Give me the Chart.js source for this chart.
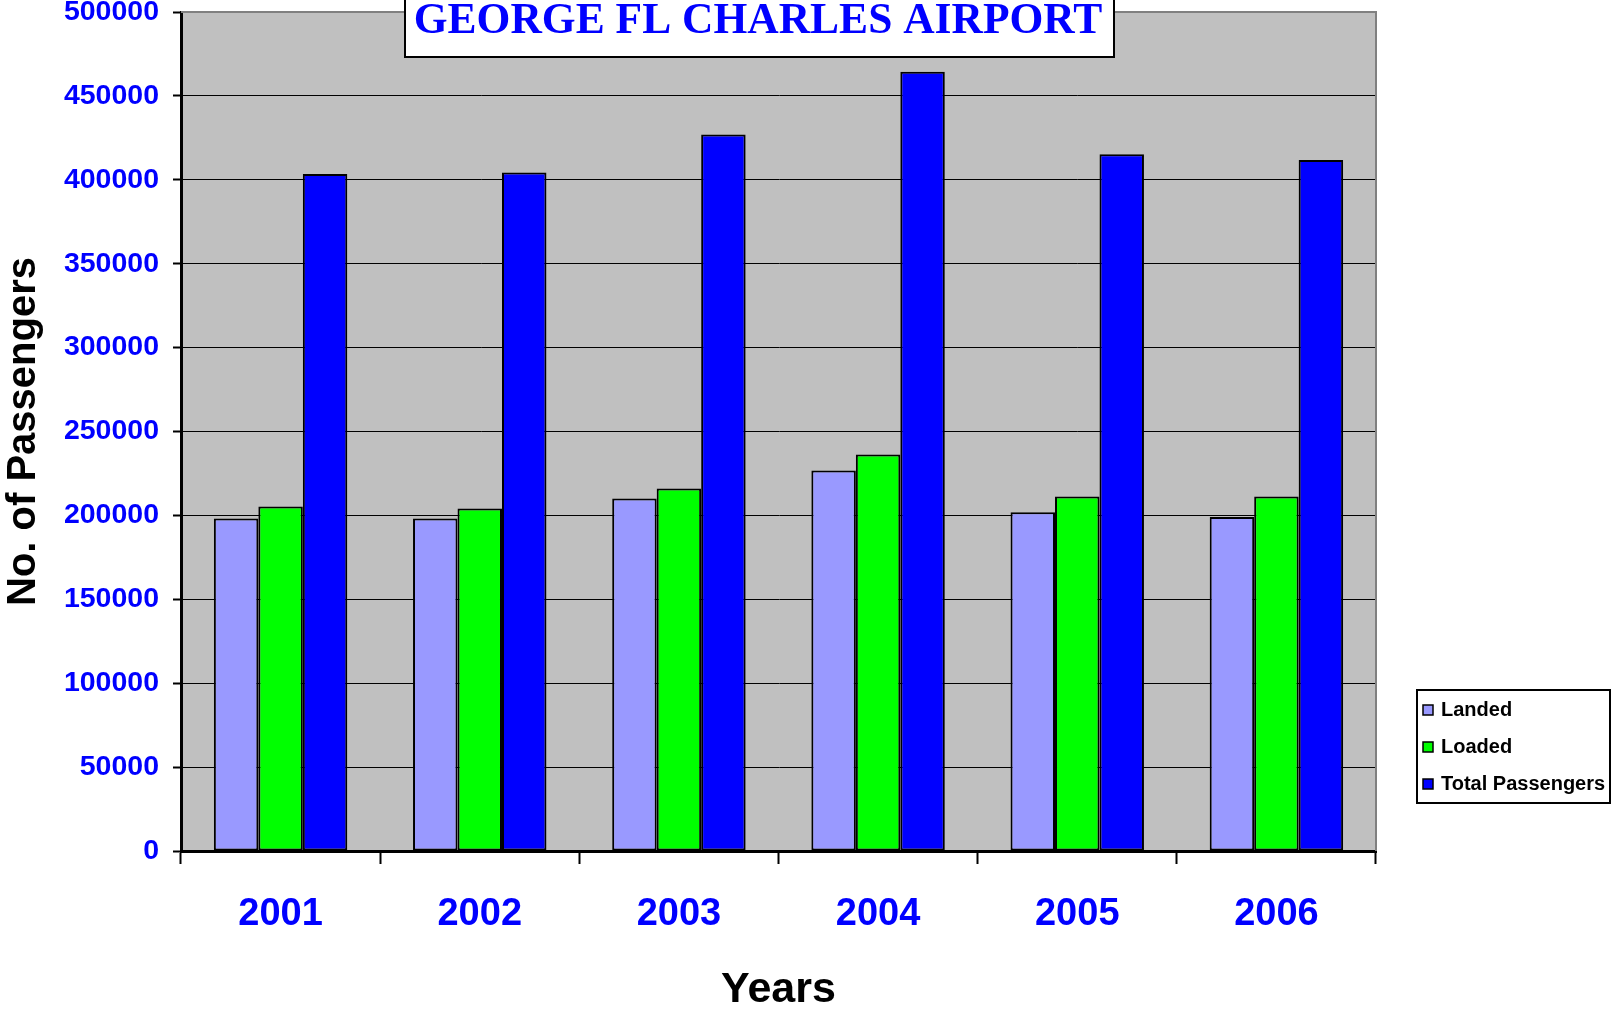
<!DOCTYPE html>
<html>
<head>
<meta charset="utf-8">
<title>George FL Charles Airport</title>
<script src="https://cdn.jsdelivr.net/npm/chart.js@4"></script>
<style>
  html, body { margin: 0; padding: 0; background: #fff; }
  #wrap { width: 1612px; height: 1013px; }
</style>
</head>
<body>
<div id="wrap"><canvas id="paxChart" width="1612" height="1013"></canvas></div>
<script>
// ── Data ──────────────────────────────────────────────────
const years = ['2001', '2002', '2003', '2004', '2005', '2006'];
const landed = [198100, 198100, 210000, 226700, 201900, 199100];
const loaded = [205300, 204100, 216000, 236300, 211200, 211200];
const totalPassengers = [403400, 404400, 427000, 464400, 415300, 411800];

const seriesNames = ['Landed', 'Loaded', 'Total Passengers'];
const seriesColors = ['#9999FF', '#00FF00', '#0000FF'];

const chartTitle = 'GEORGE FL CHARLES AIRPORT';
const SANS = "'Liberation Sans', Arial, sans-serif";
const SERIF = "'Liberation Serif', 'Times New Roman', serif";

// grey plot area + grey top/right frame
const plotBg = {
  id: 'plotBg',
  beforeDraw(chart) {
    const { ctx, chartArea: a } = chart;
    ctx.save();
    ctx.fillStyle = '#C0C0C0';
    ctx.fillRect(a.left, a.top, a.right - a.left, a.bottom - a.top);
    ctx.restore();
  },
  afterDatasetsDraw(chart) {
    const { ctx, chartArea: a } = chart;
    ctx.save();
    ctx.strokeStyle = '#808080';
    ctx.lineWidth = 2;
    ctx.beginPath();
    ctx.moveTo(a.left, a.top);
    ctx.lineTo(a.right, a.top);
    ctx.lineTo(a.right, a.bottom);
    ctx.stroke();
    ctx.restore();
  }
};

// boxed title, overlapping the top of the plot
const titleBox = {
  id: 'titleBox',
  afterDraw(chart) {
    const ctx = chart.ctx;
    ctx.save();
    ctx.fillStyle = '#fff';
    ctx.fillRect(405, -4, 709, 61);
    ctx.strokeStyle = '#000';
    ctx.lineWidth = 2;
    ctx.strokeRect(405, -4, 709, 61);
    ctx.fillStyle = '#0000FF';
    ctx.font = 'bold 43.5px ' + SERIF;
    ctx.textAlign = 'center';
    ctx.textBaseline = 'alphabetic';
    ctx.fillText(chartTitle, 758, 33);
    ctx.restore();
  }
};

// legend box at the right
const boxLegend = {
  id: 'boxLegend',
  afterDraw(chart) {
    const ctx = chart.ctx;
    ctx.save();
    ctx.fillStyle = '#fff';
    ctx.fillRect(1417, 690, 193, 113);
    ctx.strokeStyle = '#000';
    ctx.lineWidth = 2;
    ctx.strokeRect(1417, 690, 193, 113);
    ctx.font = 'bold 20px ' + SANS;
    ctx.textBaseline = 'alphabetic';
    ctx.textAlign = 'left';
    chart.data.datasets.forEach((ds, i) => {
      const base = 716 + i * 37;
      ctx.fillStyle = ds.backgroundColor;
      ctx.fillRect(1423, base - 11, 10, 10);
      ctx.lineWidth = 1.5;
      ctx.strokeStyle = '#000';
      ctx.strokeRect(1423, base - 11, 10, 10);
      ctx.fillStyle = '#000';
      ctx.fillText(ds.label, 1441, base);
    });
    ctx.restore();
  }
};

const datasets = [landed, loaded, totalPassengers].map((vals, i) => ({
  label: seriesNames[i],
  data: vals,
  backgroundColor: seriesColors[i],
  borderColor: '#000',
  borderWidth: 2,
  borderSkipped: false,
  categoryPercentage: 0.67,
  barPercentage: 1.0,
}));

new Chart(document.getElementById('paxChart'), {
  type: 'bar',
  data: { labels: years, datasets },
  plugins: [plotBg, titleBox, boxLegend],
  options: {
    responsive: false,
    animation: false,
    layout: { padding: { left: 0, top: 12, right: 236, bottom: 0 } },
    plugins: {
      legend: { display: false },
      title: { display: false },
      tooltip: { enabled: false }
    },
    scales: {
      x: {
        afterFit: s => { s.height = 162; s.paddingLeft = 0; s.paddingRight = 0; },
        grid: {
          offset: true, drawOnChartArea: false,
          color: '#000', tickColor: '#000', tickLength: 13, tickWidth: 2
        },
        border: { color: '#000', width: 3 },
        ticks: { color: '#0000FF', padding: 28, font: { family: SANS, size: 38, weight: 'bold' } },
        title: {
          display: true, text: 'Years', color: '#000',
          padding: { top: 0, bottom: -3 },
          font: { family: SANS, size: 43, weight: 'bold' }
        }
      },
      y: {
        min: 0, max: 500000,
        afterFit: s => { s.width = 181; s.paddingTop = 0; s.paddingBottom = 0; },
        grid: { color: '#000', lineWidth: 1, tickColor: '#000', tickLength: 8, tickWidth: 2 },
        border: { color: '#000', width: 3 },
        ticks: {
          stepSize: 50000, padding: 14, color: '#0000FF',
          font: { family: SANS, size: 28.5, weight: 'bold' },
          callback: v => String(v)
        },
        title: {
          display: true, text: 'No. of Passengers', color: '#000',
          padding: { top: 0, bottom: 0 },
          font: { family: SANS, size: 40, weight: 'bold' }
        }
      }
    }
  }
});
</script>
</body>
</html>
